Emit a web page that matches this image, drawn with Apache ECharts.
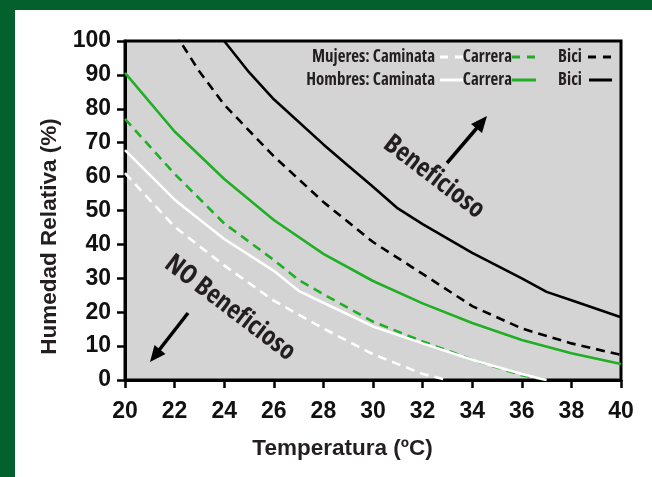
<!DOCTYPE html>
<html><head><meta charset="utf-8">
<script src="https://cdn.jsdelivr.net/npm/echarts@6/dist/echarts.min.js"></script>
<style>
html,body{margin:0;padding:0;background:#04612e;width:652px;height:477px;overflow:hidden;}
#panel{position:absolute;left:15px;top:10px;width:637px;height:467px;background:#fff;}
#main{position:absolute;left:0;top:0;width:652px;height:477px;}
</style></head><body>
<div id="panel"></div><div id="main"></div>
<script>
// Temperature ticks (x) and humidity ticks (y)
const xTicks = [20, 22, 24, 26, 28, 30, 32, 34, 36, 38, 40];
const yTicks = [0, 10, 20, 30, 40, 50, 60, 70, 80, 90, 100];

// Mujeres (women) - dashed lines
const tMujCaminata = [20, 22, 24, 26, 28, 30, 32, 33];
const hMujCaminata = [61.0, 45.2, 33.8, 23.4, 15.2, 7.6, 1.8, 0];
const tMujCarrera = [20, 22, 24, 26, 27, 28, 30, 32, 34, 36, 37];
const hMujCarrera = [77.0, 60.8, 46.2, 35.4, 29.5, 25.3, 17.2, 11.4, 6.0, 1.4, 0];
const tMujBici = [22, 23, 24, 26, 28, 30, 32, 34, 36, 38, 40];
const hMujBici = [102.5, 91.0, 81.2, 66.0, 52.5, 40.7, 31.3, 21.8, 15.2, 10.8, 7.4];

// Hombres (men) - solid lines
const tHomCaminata = [20, 22, 24, 26, 27, 28, 30, 32, 34, 36, 37];
const hHomCaminata = [67.8, 53.2, 41.6, 32.2, 26.3, 22.8, 15.8, 10.8, 6.0, 1.8, 0];
const tHomCarrera = [20, 22, 24, 26, 28, 30, 32, 34, 36, 38, 40];
const hHomCarrera = [90.6, 73.3, 59.3, 47.2, 37.2, 29.2, 22.6, 16.8, 11.8, 7.9, 4.7];
const tHomBici = [24, 25, 26, 28, 29, 30, 31, 32, 34, 36, 37, 38, 40];
const hHomBici = [100, 90.8, 82.8, 69.5, 63.2, 57.0, 50.6, 46.0, 37.5, 30.0, 26.0, 23.5, 18.5];

const legendRow1 = ['Mujeres: Caminata', 'Carrera', 'Bici'];
const legendRow2 = ['Hombres: Caminata', 'Carrera', 'Bici'];
const labelUp = 'Beneficioso';
const labelDown = 'NO Beneficioso';

const GREEN = '#1fae24';
const FONT = '"Liberation Sans", Arial, sans-serif';
const TXT = '#231f20';
const DASH = [9, 6];

// condensed face (Open Sans width axis) sized to a target width, fallback to Liberation Sans
const mctx = document.createElement('canvas').getContext('2d');
function measure(font, s) { mctx.font = font; return mctx.measureText(s).width; }
const condOK = Math.abs(measure('bold condensed 20px "Open Sans"', 'Mujeres: Caminata') - measure('bold 20px "Open Sans"', 'Mujeres: Caminata')) > 5;
function fitFont(s, target) {
  if (condOK) {
    const w = measure('bold condensed 20px "Open Sans"', s);
    return 'bold condensed ' + (20 * target / w).toFixed(2) + 'px "Open Sans"';
  }
  const w = measure('bold 20px ' + FONT, s);
  return 'bold ' + (20 * target / w).toFixed(2) + 'px ' + FONT;
}
const legendFont = fitFont(legendRow1[0], 123);
const annUpFont = fitFont(labelUp, 119);
const annDownFont = fitFont(labelDown, 156);

function pairs(t, h) { return t.map((v, i) => [v, h[i]]); }
function mk(name, t, h, color, dashed) {
  return {
    name: name, type: 'line', data: pairs(t, h), symbol: 'none', clip: true,
    silent: true, animation: false,
    lineStyle: { color: color, width: 2.6, type: dashed ? DASH : 'solid', cap: 'butt' }
  };
}

const chart = echarts.init(document.getElementById('main'), null, { renderer: 'canvas' });

function seg(x1, y1, x2, y2, color, dashed) {
  return { type: 'line', shape: { x1, y1, x2, y2 }, silent: true,
    style: { stroke: color, lineWidth: 3, lineDash: dashed ? [8, 7] : null } };
}
function txt(text, x, y, align, font) {
  return { type: 'text', x: x, y: y, silent: true,
    style: { text: text, font: font, fill: TXT, align: align, verticalAlign: 'middle',
      textAlign: align, textVerticalAlign: 'middle' } };
}

const option = {
  animation: false,
  grid: { left: 125, right: 31, top: 41, bottom: 97, show: true, backgroundColor: '#d4d4d4', borderColor: '#000', borderWidth: 3 },
  xAxis: {
    type: 'value', min: xTicks[0], max: xTicks[xTicks.length - 1], interval: 2,
    name: 'Temperatura (ºC)', nameLocation: 'middle', nameGap: 57,
    nameTextStyle: { fontFamily: FONT, fontWeight: 'bold', fontSize: 22.5, color: TXT, padding: [0, 61, 0, 0] },
    axisLine: { lineStyle: { color: '#000', width: 3 } },
    axisTick: { length: 8, lineStyle: { color: '#000', width: 2.5 } },
    axisLabel: { fontFamily: FONT, fontWeight: 'bold', fontSize: 23, color: '#111', margin: 20 },
    splitLine: { show: false }
  },
  yAxis: {
    type: 'value', min: yTicks[0], max: yTicks[yTicks.length - 1], interval: 10,
    name: 'Humedad Relativa (%)', nameLocation: 'middle', nameGap: 63,
    nameTextStyle: { fontFamily: FONT, fontWeight: 'bold', fontSize: 22.5, color: TXT, padding: [0, 52, 0, 0] },
    axisLine: { lineStyle: { color: '#000', width: 3 } },
    axisTick: { length: 8, lineStyle: { color: '#000', width: 2.5 } },
    axisLabel: { fontFamily: FONT, fontWeight: 'bold', fontSize: 23, color: '#111', margin: 14 },
    splitLine: { show: false }
  },
  series: [
    mk('Mujeres: Caminata', tMujCaminata, hMujCaminata, '#ffffff', true),
    mk('Mujeres: Carrera', tMujCarrera, hMujCarrera, GREEN, true),
    mk('Mujeres: Bici', tMujBici, hMujBici, '#000000', true),
    mk('Hombres: Carrera', tHomCarrera, hHomCarrera, GREEN, false),
    mk('Hombres: Caminata', tHomCaminata, hHomCaminata, '#ffffff', false),
    mk('Hombres: Bici', tHomBici, hHomBici, '#000000', false)
  ],
  graphic: [
    // legend row 1
    txt(legendRow1[0], 435, 57, 'right', legendFont), seg(440, 57, 463, 57, '#ffffff', true),
    txt(legendRow1[1], 512, 57, 'right', legendFont), seg(512, 57, 535, 57, GREEN, true),
    txt(legendRow1[2], 582, 57, 'right', legendFont), seg(588, 57, 612, 57, '#000000', true),
    // legend row 2
    txt(legendRow2[0], 435, 80, 'right', legendFont), seg(440, 80, 463, 80, '#ffffff', false),
    txt(legendRow2[1], 512, 80, 'right', legendFont), seg(512, 80, 536, 80, GREEN, false),
    txt(legendRow2[2], 582, 80, 'right', legendFont), seg(589, 80, 612, 80, '#000000', false),
    // annotations
    Object.assign(txt(labelUp, 434, 177, 'center', annUpFont), { rotation: -0.65 }),
    Object.assign(txt(labelDown, 230, 308, 'center', annDownFont), { rotation: -0.65 }),
    { type: 'line', silent: true, shape: { x1: 447, y1: 163, x2: 479, y2: 125.5 }, style: { stroke: '#000', lineWidth: 3.5 } },
    { type: 'polygon', silent: true, shape: { points: [[487, 116], [482, 133], [471, 124]] }, style: { fill: '#000' } },
    { type: 'line', silent: true, shape: { x1: 188, y1: 313, x2: 158, y2: 351.5 }, style: { stroke: '#000', lineWidth: 3.5 } },
    { type: 'polygon', silent: true, shape: { points: [[150, 362], [165.5, 354], [154.5, 345]] }, style: { fill: '#000' } }
  ]
};
chart.setOption(option);
</script>
</body></html>
